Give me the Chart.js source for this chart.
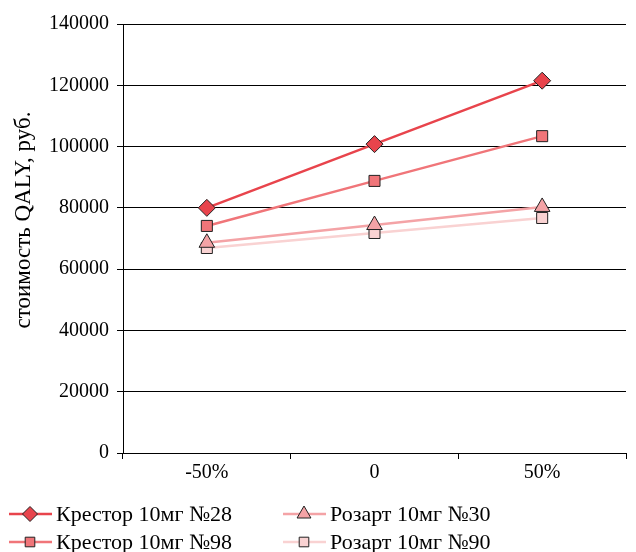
<!DOCTYPE html>
<html>
<head>
<meta charset="utf-8">
<script src="https://cdn.jsdelivr.net/npm/chart.js@4/dist/chart.umd.min.js"></script>
<style>
  html, body { margin: 0; padding: 0; background: #fff; }
  #wrap { width: 636px; height: 552px; }
</style>
</head>
<body>
<div id="wrap"><canvas id="c" width="636" height="552"></canvas></div>
<script>
// данные
const categories = ["-50%", "0", "50%"];
const krestor28 = [80000, 100800, 121500];
const krestor98 = [74100, 88800, 103400];
const rozart30 = [68600, 74400, 80300];
const rozart90 = [66900, 71800, 76700];
const seriesNames = ["Крестор 10мг №28", "Крестор 10мг №98", "Розарт 10мг №30", "Розарт 10мг №90"];
const yTicks = [0, 20000, 40000, 60000, 80000, 100000, 120000, 140000];
const yTitle = "стоимость QALY, руб.";

const FONT = "'Liberation Serif', 'Times New Roman', serif";

function ds(label, data, color, shape, radius) {
    return {
        label: label,
        data: data,
        borderColor: color,
        backgroundColor: color,
        borderWidth: 2.5,
        pointStyle: shape,
        pointRadius: radius,
        pointHoverRadius: radius,
        pointBorderColor: "#222",
        pointBackgroundColor: color,
        pointBorderWidth: 1,
        tension: 0,
    };
}

// подпись оси Y (смещена вверх, как в оригинале)
const yTitlePlugin = {
    id: "yTitle",
    afterDraw(chart) {
        const ctx = chart.ctx;
        ctx.save();
        ctx.translate(24, 220);
        ctx.rotate(-Math.PI / 2);
        ctx.fillStyle = "#000";
        ctx.font = "23px " + FONT;
        ctx.textAlign = "center";
        ctx.textBaseline = "middle";
        ctx.fillText(yTitle, 0, 0);
        ctx.restore();
    },
};

// легенда в две колонки, как в оригинале
const legendPlugin = {
    id: "twoColLegend",
    afterDraw(chart) {
        const ctx = chart.ctx;
        const slots = [
            { x: 9, y: 514 }, { x: 9, y: 542 },
            { x: 283, y: 514 }, { x: 283, y: 542 },
        ];
        chart.data.datasets.forEach((d, i) => {
            const s = slots[i];
            ctx.save();
            ctx.strokeStyle = d.borderColor;
            ctx.lineWidth = 2.5;
            ctx.beginPath();
            ctx.moveTo(s.x, s.y);
            ctx.lineTo(s.x + 43, s.y);
            ctx.stroke();
            ctx.fillStyle = d.pointBackgroundColor;
            ctx.strokeStyle = d.pointBorderColor;
            ctx.lineWidth = 1;
            Chart.helpers.drawPoint(ctx, {
                pointStyle: d.pointStyle,
                radius: d.pointRadius - 1,
                borderWidth: 1,
                rotation: 0,
            }, s.x + 21, s.y);
            ctx.fillStyle = "#000";
            ctx.font = "22px " + FONT;
            ctx.textBaseline = "middle";
            ctx.textAlign = "left";
            ctx.fillText(d.label, s.x + 47, s.y + 1);
            ctx.restore();
        });
    },
};

new Chart(document.getElementById("c"), {
    type: "line",
    data: {
        labels: categories,
        datasets: [
            ds(seriesNames[0], krestor28, "#e8444c", "rectRot", 8.5),
            ds(seriesNames[1], krestor98, "#f07579", "rect", 7.8),
            ds(seriesNames[2], rozart30, "#f4a3a6", "triangle", 9),
            ds(seriesNames[3], rozart90, "#f9d2d2", "rect", 7.8),
        ],
    },
    options: {
        responsive: false,
        animation: false,
        layout: { padding: { left: 0, right: 10, top: 24, bottom: 59 } },
        plugins: {
            legend: { display: false },
            tooltip: { enabled: false },
        },
        scales: {
            x: {
                offset: true,
                grid: {
                    offset: true,
                    drawOnChartArea: false,
                    drawTicks: true,
                    tickLength: 6,
                    color: "#000",
                },
                border: { color: "#000", width: 1 },
                ticks: {
                    color: "#000",
                    font: { family: FONT, size: 20 },
                    padding: 2,
                    maxRotation: 0,
                },
                afterFit(s) { s.height = 40; },
            },
            y: {
                min: 0,
                max: 140000,
                afterBuildTicks(s) { s.ticks = yTicks.map(v => ({ value: v })); },
                grid: {
                    color: "#000",
                    lineWidth: 1,
                    tickLength: 6,
                },
                border: { color: "#000", width: 1 },
                ticks: {
                    color: "#000",
                    font: { family: FONT, size: 20 },
                    padding: 8,
                    callback: (v) => String(v),
                },
                afterFit(s) { s.width = 123; },
            },
        },
    },
    plugins: [yTitlePlugin, legendPlugin],
});
</script>
</body>
</html>
